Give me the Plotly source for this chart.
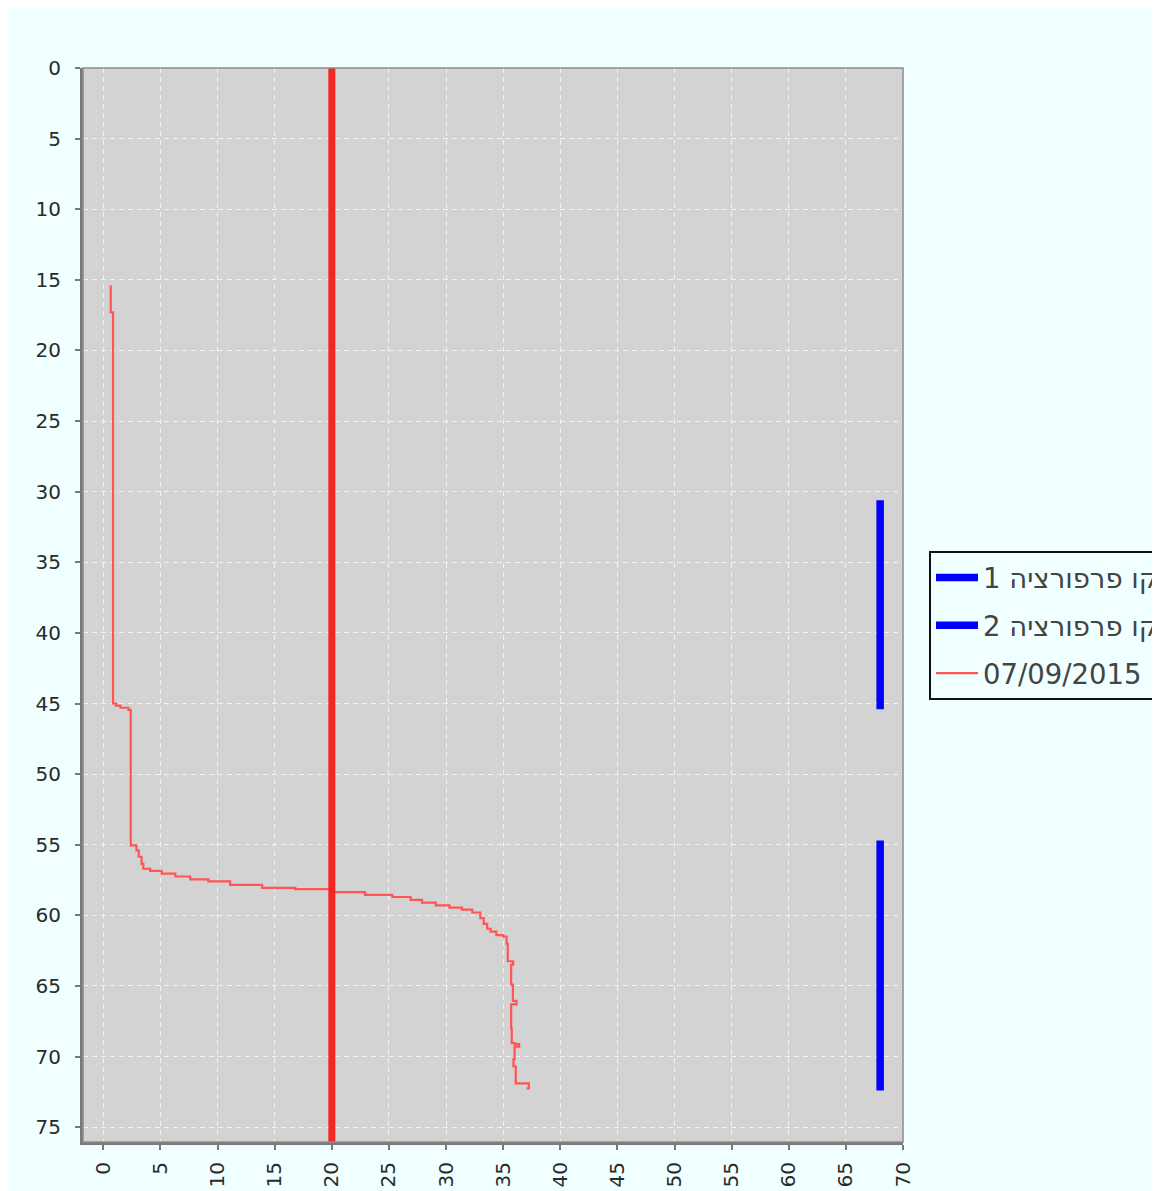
import plotly.graph_objects as go

# ---- data ----
depth = [15.4, 17.3, 45.0, 45.15, 45.3, 45.45, 55.05, 55.4, 55.85, 56.35, 56.7, 56.85,
         57.05, 57.25, 57.45, 57.6, 57.85, 58.05, 58.15, 58.35, 58.55, 58.7, 58.9,
         59.1, 59.3, 59.45, 59.6, 59.8, 60.2, 60.6, 60.95, 61.15, 61.4, 61.5, 62.0,
         63.25, 63.5, 64.9, 66.05, 66.3, 68.0, 69.05, 69.12, 69.3, 70.2, 70.7, 71.9, 72.25]
value = [0.65, 0.85, 1.1, 1.5, 2.2, 2.4, 2.9, 3.1, 3.35, 3.5, 4.1, 5.1,
         6.3, 7.6, 9.2, 11.1, 13.9, 16.8, 20.0, 22.9, 25.3, 26.9, 27.9,
         29.1, 30.3, 31.4, 32.3, 33.0, 33.3, 33.6, 33.9, 34.4, 35.0, 35.3, 35.4,
         35.87, 35.7, 35.85, 36.17, 35.7, 35.75, 36.0, 36.4, 36.0, 35.9, 36.1, 37.25, 37.05]
curve_name = "07/09/2015"

perf_names = ["קו פרפורציה 1", "קו פרפורציה 2"]
perf_x = [68, 68]
perf_top = [30.6, 54.7]
perf_bottom = [45.4, 72.4]

limit_x = 20
depth_range = [0, 76.05]
x_range = [-1.78, 70]
tick_vals = list(range(0, 76, 5))
x_ticks = list(range(0, 71, 5))

BG = "#f0ffff"
FONT = "DejaVu Sans"

fig = go.Figure()

for i, nm in enumerate(perf_names):
    fig.add_trace(go.Scatter(
        x=[perf_x[i], perf_x[i]], y=[perf_top[i], perf_bottom[i]],
        mode="lines", name=nm, legendgroup=f"g{i}",
        line=dict(color="#0000ff", width=7.5)))

fig.add_trace(go.Scatter(
    x=value, y=depth, mode="lines", name=curve_name, legendgroup="g2",
    line=dict(color="#ff5555", width=2.2, shape="vh")))

fig.add_trace(go.Scatter(
    x=[limit_x, limit_x], y=depth_range, mode="lines", showlegend=False,
    line=dict(color="rgba(245,30,30,0.95)", width=7)))

# figure origin sits at (8, 8) in the page because of the body margin;
# the figure runs past the right window edge, where the legend is cut off
W, H = 1200, 1191
OX, OY = 8, 8
L, T = 83 - OX, 68 - OY
R = (W + OX) - 903
B = (H + OY) - 1146
pw, ph = W - L - R, H - T - B

def px2paper_x(px):
    return (px - OX - L) / pw

def px2paper_y(py):
    return (H - B - (py - OY)) / ph

fig.update_layout(
    width=W, height=H,
    margin=dict(l=L, r=R, t=T, b=B, pad=0),
    paper_bgcolor=BG,
    plot_bgcolor="#d3d3d3",
    font=dict(family=FONT, size=20, color="#333333"),
    showlegend=True,
    legend=dict(
        x=px2paper_x(929), y=px2paper_y(553), xanchor="left", yanchor="top",
        bgcolor=BG, bordercolor="#111111", borderwidth=2,
        font=dict(family=FONT, size=27.5, color="#444444"),
        traceorder="grouped", tracegroupgap=9, itemwidth=42,
    ),
    shapes=[
        dict(type="rect", xref="paper", yref="paper", x0=0, x1=1, y0=0, y1=1,
             line=dict(color="#8c8c8c", width=1.5), layer="above"),
    ],
)

fig.update_xaxes(
    range=x_range, tickmode="array", tickvals=x_ticks, ticktext=[str(v) for v in x_ticks],
    tickangle=-90, showgrid=True, gridcolor="#f2f2f2", gridwidth=1, griddash="5px,4px",
    zeroline=False, showline=True, linecolor="#7a7a7a", linewidth=3,
    ticks="outside", ticklen=5, tickcolor="#7a7a7a", tickwidth=1.5,
    ticklabelstandoff=4, tickfont=dict(family=FONT, size=20, color="#2a2a2a"),
)
fig.update_yaxes(
    range=depth_range[::-1], tickmode="array", tickvals=tick_vals,
    ticktext=[str(v) for v in tick_vals],
    showgrid=True, gridcolor="#f2f2f2", gridwidth=1, griddash="5px,4px",
    zeroline=False, showline=True, linecolor="#7a7a7a", linewidth=3,
    ticks="outside", ticklen=5, tickcolor="#7a7a7a", tickwidth=1.5,
    ticklabelstandoff=10, tickfont=dict(family=FONT, size=20, color="#2a2a2a"),
)

fig.write_html("out.html")
